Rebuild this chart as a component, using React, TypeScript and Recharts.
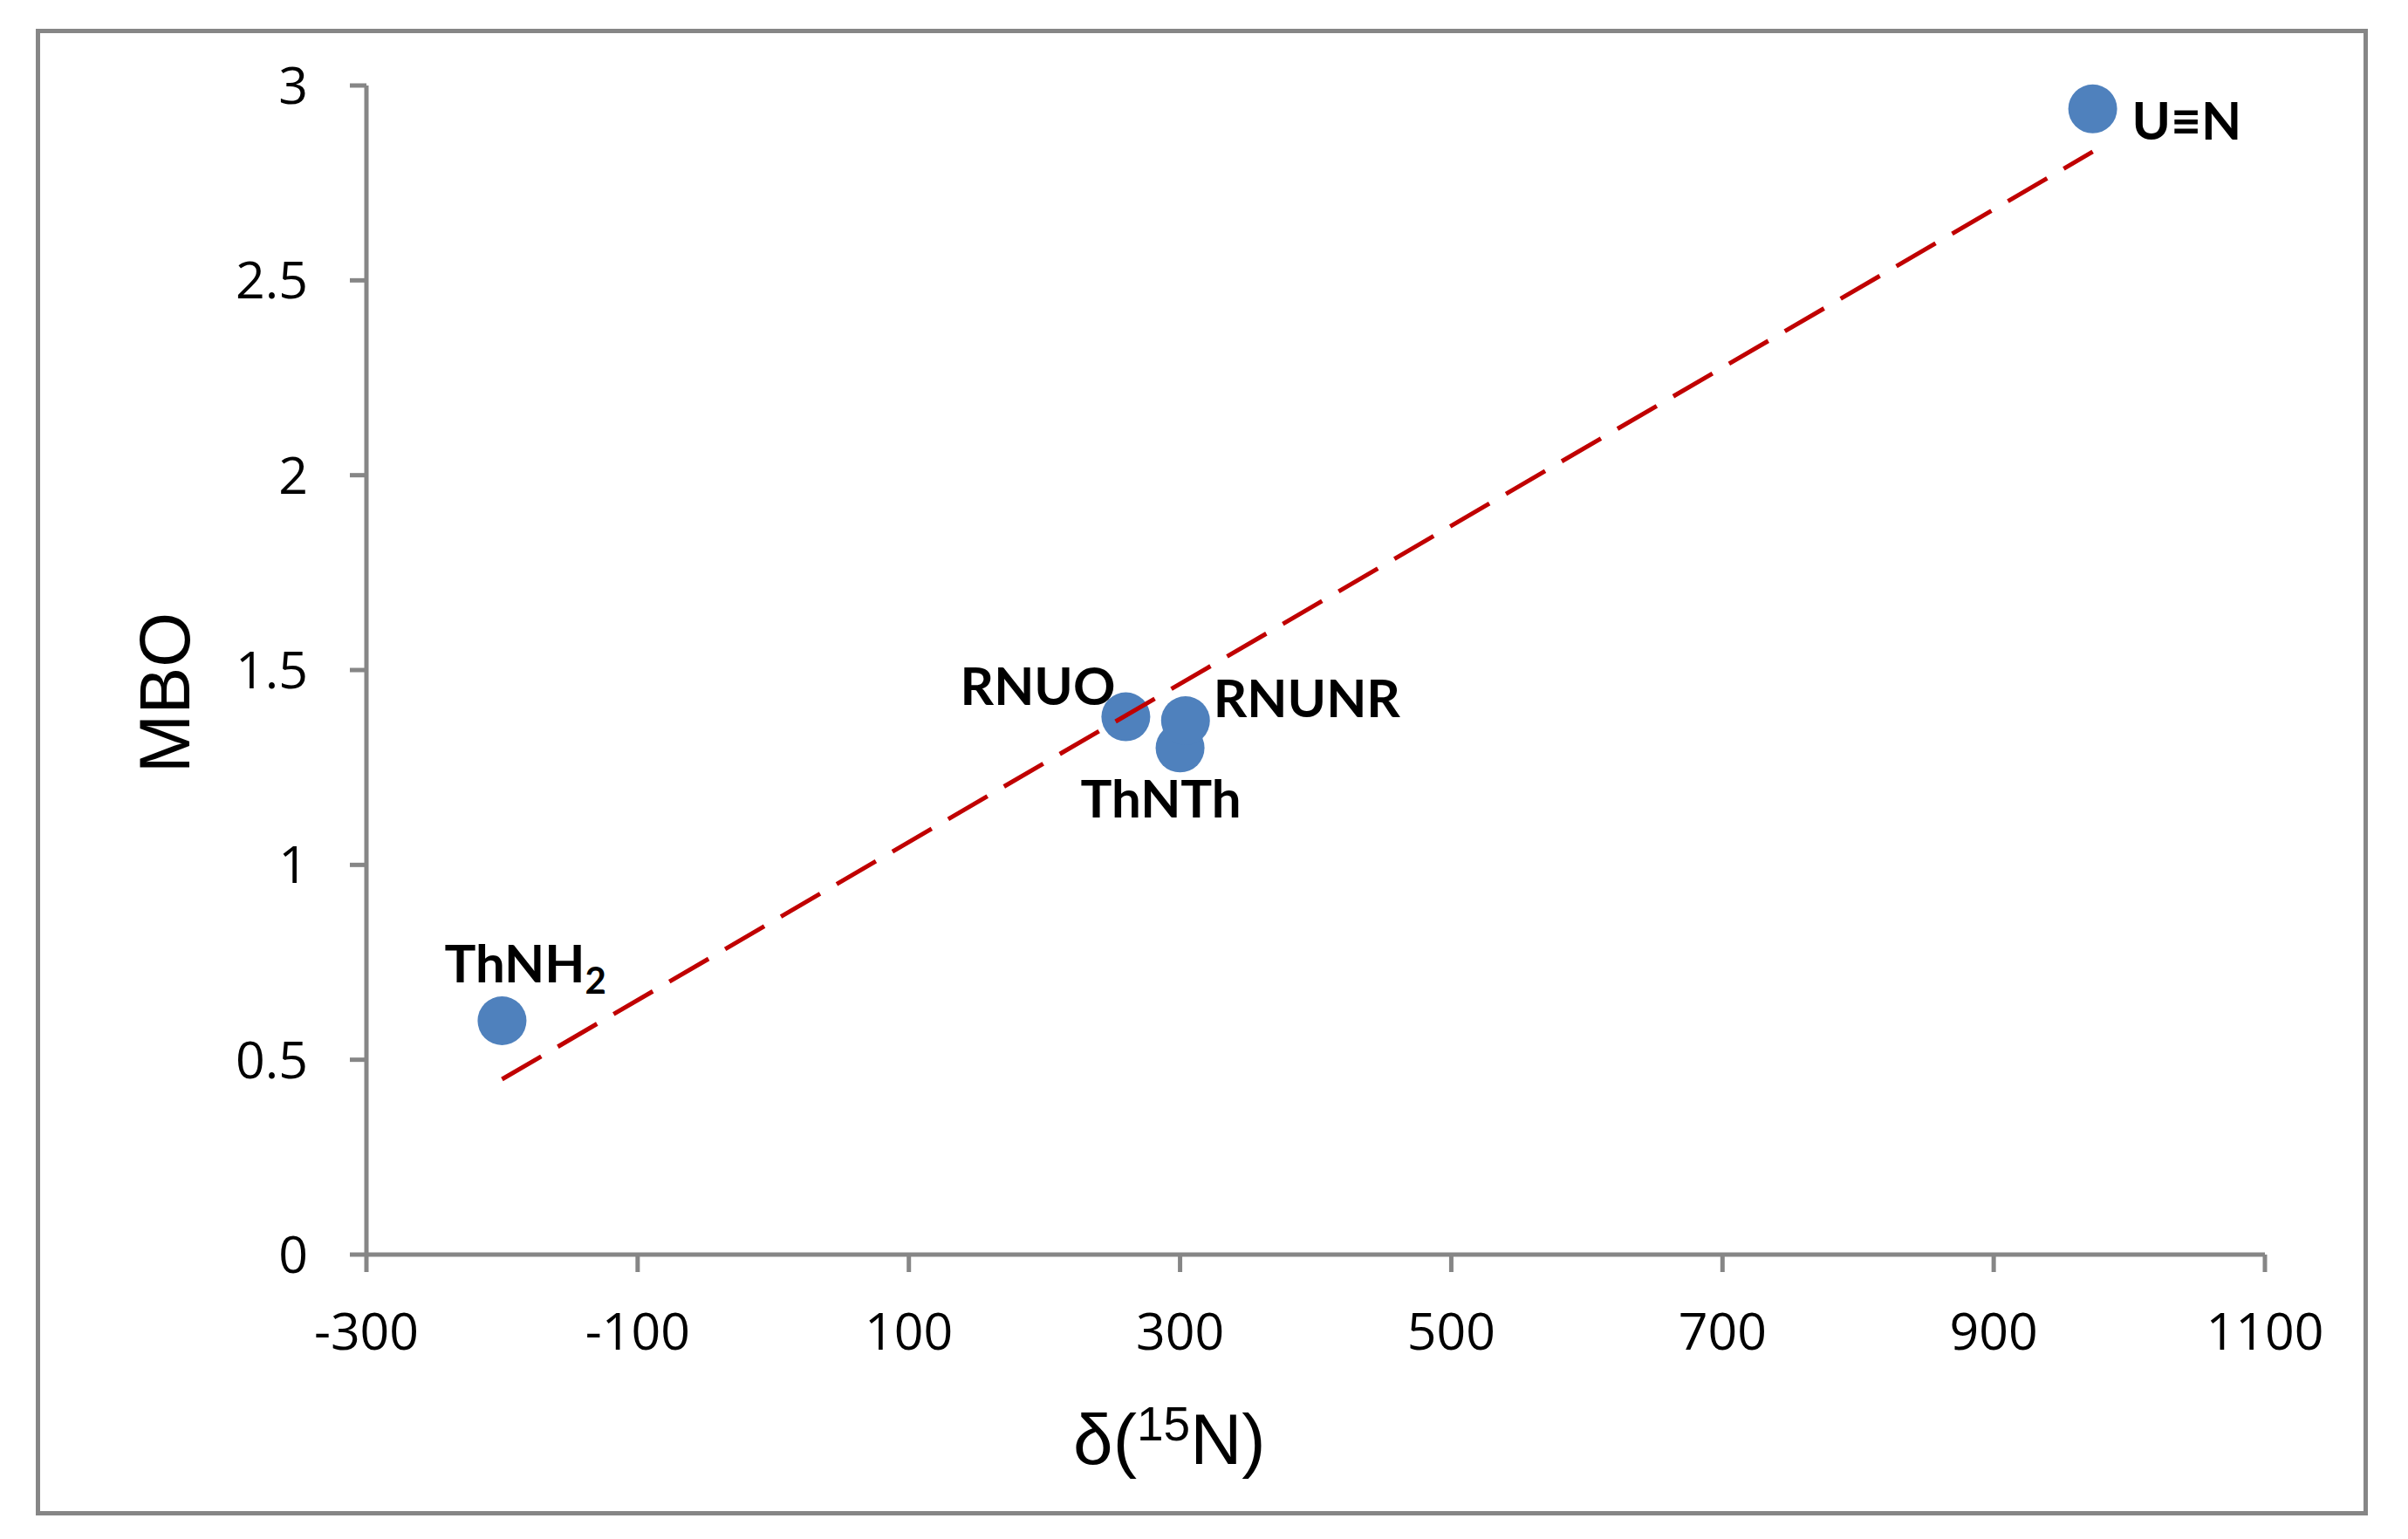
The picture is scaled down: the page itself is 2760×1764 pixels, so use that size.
import { Scatter, ScatterChart, XAxis, YAxis } from "recharts";

// values
const compounds = ["ThNH2", "RNUO", "ThNTh", "RNUNR", "U≡N"];
const shifts = [-200, 260, 300, 304, 973];
const bondOrders = [0.6, 1.38, 1.3, 1.37, 2.94];

const xTicks = [-300, -100, 100, 300, 500, 700, 900, 1100];
const yTicks = [0, 0.5, 1, 1.5, 2, 2.5, 3];

// dashed trend line end points
const trendShifts = [-200, 973];
const trendOrders = [0.45, 2.83];

const points = compounds.map((name, i) => ({ name, x: shifts[i], y: bondOrders[i] }));
const trend = trendShifts.map((x, i) => ({ x, y: trendOrders[i] }));

const axisColor = "#868686";
const dotColor = "#4F81BD";
const trendColor = "#C00000";
const tickFont = { fill: "#000", fontSize: 59, fontFamily: "'Open Sans', sans-serif" };

// where each point's label sits relative to its dot
const labelPlacement: Record<string, { dx: number; dy: number; anchor: "start" | "middle" | "end" }> = {
  ThNH2: { dx: -66, dy: -44, anchor: "start" },
  RNUO: { dx: -12, dy: -14, anchor: "end" },
  ThNTh: { dx: -22, dy: 80, anchor: "middle" },
  RNUNR: { dx: 32, dy: -4, anchor: "start" },
  "U≡N": { dx: 45, dy: 35, anchor: "start" },
};

function Dot(props: any) {
  const { cx, cy, payload } = props;
  const place = labelPlacement[payload.name];
  const sub = payload.name.match(/^(.*?)(\d)$/);
  return (
    <g>
      <circle cx={cx} cy={cy} r={28} fill={dotColor} />
      <text
        x={cx + place.dx}
        y={cy + place.dy}
        textAnchor={place.anchor}
        fontFamily="Lato, 'DejaVu Sans', sans-serif"
        fontWeight={700}
        fontSize={60}
        fill="#000"
      >
        {sub ? (
          <>
            {sub[1]}
            <tspan fontSize={42} dy={13}>
              {sub[2]}
            </tspan>
          </>
        ) : (
          payload.name
        )}
      </text>
    </g>
  );
}

function XTitle() {
  return (
    <text x={1230} y={1678} fontFamily="'Liberation Sans', Arial, sans-serif" fontSize={82} fill="#000">
      δ(
      <tspan fontSize={55} dy={-27}>
        15
      </tspan>
      <tspan dy={27}>N)</tspan>
    </text>
  );
}

function YTitle() {
  return (
    <text
      x={217}
      y={794}
      transform="rotate(-90 217 794)"
      textAnchor="middle"
      fontFamily="'Liberation Sans', Arial, sans-serif"
      fontSize={81}
      fill="#000"
    >
      MBO
    </text>
  );
}

export default function App() {
  return (
    <div style={{ position: "absolute", left: 0, top: 0, width: 2760, height: 1764, background: "#fff" }}>
      <div
        style={{
          position: "absolute",
          left: 41,
          top: 33,
          width: 2673,
          height: 1704,
          boxSizing: "border-box",
          border: `5px solid ${axisColor}`,
        }}
      />
      <div style={{ position: "absolute", left: 0, top: 0 }}>
        <ScatterChart width={2760} height={1764} margin={{ top: 98, right: 164, bottom: 206, left: 220 }}>
          <XAxis
            type="number"
            dataKey="x"
            domain={[-300, 1100]}
            ticks={xTicks}
            interval={0}
            height={120}
            tickSize={20}
            tickMargin={47}
            axisLine={{ stroke: axisColor, strokeWidth: 5 }}
            tickLine={{ stroke: axisColor, strokeWidth: 5 }}
            tick={tickFont}
            label={<XTitle />}
          />
          <YAxis
            type="number"
            dataKey="y"
            domain={[0, 3]}
            ticks={yTicks}
            interval={0}
            width={200}
            tickSize={19}
            tickMargin={48}
            axisLine={{ stroke: axisColor, strokeWidth: 5 }}
            tickLine={{ stroke: axisColor, strokeWidth: 5 }}
            tick={tickFont}
            label={<YTitle />}
          />
          <Scatter data={points} shape={<Dot />} isAnimationActive={false} />
          <Scatter
            data={trend}
            line={{ stroke: trendColor, strokeWidth: 5, strokeDasharray: "52 22" }}
            shape={() => <g />}
            isAnimationActive={false}
          />
        </ScatterChart>
      </div>
    </div>
  );
}
